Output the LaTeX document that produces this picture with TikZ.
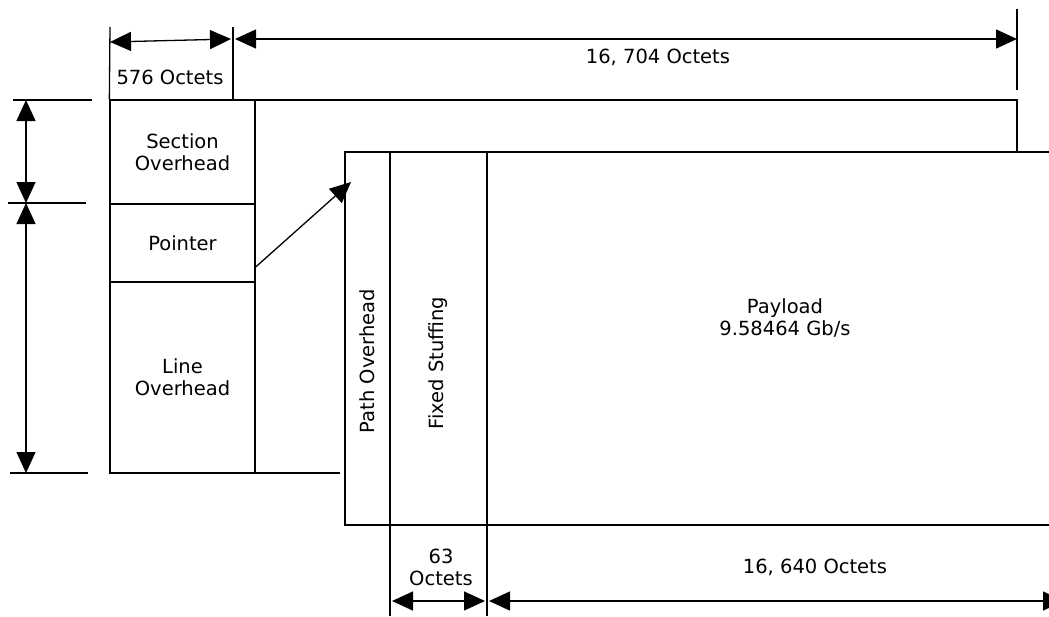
\documentclass[tikz,border=0pt]{standalone}
\usepackage{fontspec}
\setmainfont{DejaVu Sans}
\usetikzlibrary{arrows.meta}

\begin{document}
\begin{tikzpicture}[x=1pt,y=-1pt,line width=1.3pt,>={Triangle[length=21pt,width=19pt]},font=\fontsize{19.5}{22}\selectfont]
\tikzstyle{cell}=[draw,inner sep=0pt,align=center,minimum width=145pt]
\tikzstyle{lbl}=[inner sep=1pt,align=center]
\useasboundingbox (0,0) rectangle (1049,616);
% outer frame
\draw (255,100) -- (1017,100) -- (1017,152);
\draw (255,473) -- (340,473);
% overhead cells
\node[cell,minimum height=104pt] (sec) at (182.5,152) {Section\\Overhead};
\node[cell,minimum height=78pt] (ptr) at (182.5,243) {Pointer};
\node[cell,minimum height=191pt] (loh) at (182.5,377.5) {Line\\Overhead};
% payload frame
\draw (1049,152) -- (345,152) -- (345,525) -- (1049,525);
\coordinate (pos) at (390,152); \coordinate (poe) at (390,616);
\coordinate (fss) at (487,152); \coordinate (fse) at (487,616);
\draw (pos) -- (poe); \draw (fss) -- (fse);
\node[lbl,rotate=90] (poh) at (367,361) {Path Overhead};
\node[lbl,rotate=90] (fst) at (438,363) {Fixed Stuffing};
\node[lbl] (pay) at (785,318) {Payload\\9.58464 Gb/s};
% pointer
\coordinate (tip) at (351,182);
\draw[->] (ptr.east |- 0,267) -- (tip);
% top dimensions
\coordinate (a0) at (110,42); \coordinate (a1) at (231,39); \coordinate (a2) at (235,39); \coordinate (a3) at (1017,39);
\draw (110,27) -- (sec.north west); \draw (233,27) -- (233,100); \draw (1017,9) -- (1017,90);
\draw[<->] (a0) -- (a1); \draw[<->] (a2) -- (a3);
\node[lbl] (w1) at (170,77) {576 Octets};
\node[lbl] (w2) at (658,57) {16, 704 Octets};
% left dimensions
\coordinate (h0) at (26,100); \coordinate (h1) at (26,203); \coordinate (h2) at (26,473);
\draw (13,100) -- (92,100); \draw (8,203) -- (86,203); \draw (10,473) -- (88,473);
\draw[<->] (h0) -- (h1); \draw[<->] (h1) -- (h2);
% bottom dimensions
\coordinate (b0) at (392,601); \coordinate (b1) at (485,601); \coordinate (b2) at (489,601); \coordinate (b3) at (1064,601);
\draw[<->] (b0) -- (b1); \draw[<->] (b2) -- (b3);
\node[lbl] (w3) at (441,567) {63\\Octets};
\node[lbl] (w4) at (815,567) {16, 640 Octets};
\end{tikzpicture}
\end{document}
